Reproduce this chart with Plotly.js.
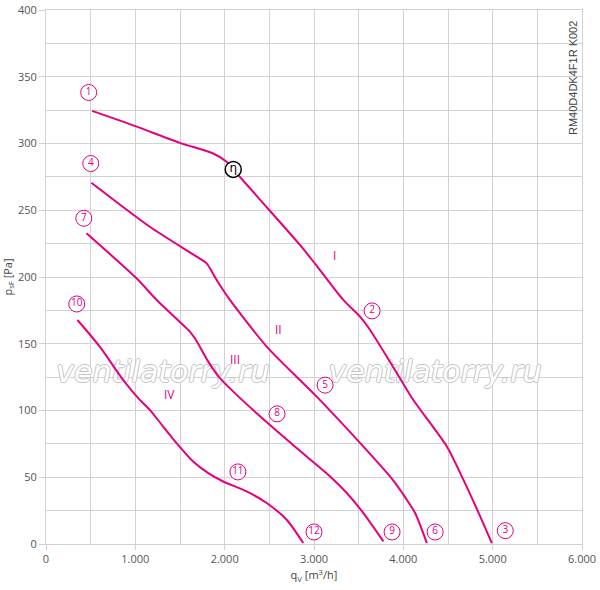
<!DOCTYPE html>
<html><head><meta charset="utf-8">
<script src="https://cdn.plot.ly/plotly-3.0.1.min.js"></script>
<style>body{margin:0;background:#fff}#c{width:600px;height:590px}</style>
</head><body><div id="c"></div>
<script>
// Curve data (q_V in m³/h, p_sF in Pa)
const curveIx = [516,1000,1498,1872,2022,2096,2395,2843,3011,3328,3515,3628,3964,4110,4487,4673,4860,4991];
const curveIy = [324.4,313,300.5,292.5,286.3,280.6,258,224,210,182.8,170.3,160.3,124,108,73,48,20.7,0.7];
const curveIIx = [508,1162,1686,1798,1910,2059,2470,3030,3553,3851,3964,4039,4132,4263];
const curveIIy = [270.6,237.6,215.2,210.2,197.8,182.8,147.9,110.4,73,50.6,40.6,33.1,23.2,0.7];
const curveIIIx = [453,1013,1250,1610,1666,1722,1816,1947,2134,2358,2656,2918,3180,3367,3553,3777];
const curveIIIy = [232.7,199,182,159.1,154.1,147.8,136.6,124.2,111.7,98,80.5,65.5,50.6,38.2,23.2,2];
const curveIVx = [352,602,863,1050,1162,1311,1461,1647,1816,1984,2246,2470,2694,2880];
const curveIVy = [167.8,147.8,123,108,100.5,88,75.6,61.8,53.1,46.8,39.4,30.7,18.2,0.7];

// Operating-point markers
const pointX = [478,3650,5141,501,3124,4356,423,2586,3874,344,2148,3000];
const pointY = [338.2,174.6,10,285,119,9,244,97.5,9,179.8,54,9];
const pointText = ['1','2','3','4','5','6','7','8','9','10','11','12'];
const etaX = [2096], etaY = [280.6], etaText = ['η'];

// Speed-step labels
const romanX = [3225,2608,2115,1386];
const romanY = [216,161,138.5,112];
const romanText = ['I','II','III','IV'];

// Watermark
const wmX = [1308,4356], wmY = [127,127], wmText = ['ventilatorry.ru','ventilatorry.ru'];

// Axis ticks
const xTickVals = [0,1000,2000,3000,4000,5000,6000];
const xTickText = ['0','1.000','2.000','3.000','4.000','5.000','6.000'];
const yTickVals = [0,50,100,150,200,250,300,350,400];

const MAG = '#e5007d';
const GRID = '#d2d2d2';

function curve(x,y){return {x:x,y:y,mode:'lines',type:'scatter',line:{color:MAG,width:2,shape:'spline',smoothing:0.7},hoverinfo:'skip',showlegend:false};}

const traces = [
  {x:wmX,y:wmY,text:wmText,mode:'text',type:'scatter',textposition:'middle center',
   textfont:{family:'DejaVu Sans, sans-serif',size:30,style:'italic',color:'#ffffff',
     shadow:'1px 0 #c4c4c4, -1px 0 #c4c4c4, 0 1px #c4c4c4, 0 -1px #c4c4c4'},
   showlegend:false,hoverinfo:'skip'},
  curve(curveIx,curveIy), curve(curveIIx,curveIIy), curve(curveIIIx,curveIIIy), curve(curveIVx,curveIVy),
  {x:pointX,y:pointY,text:pointText,mode:'markers+text',type:'scatter',textposition:'middle center',
   marker:{symbol:'circle',size:16,color:'white',line:{color:MAG,width:1}},
   textfont:{family:'Open Sans, sans-serif',size:10,color:MAG},showlegend:false,hoverinfo:'skip',cliponaxis:false},
  {x:etaX,y:etaY,text:etaText,mode:'markers+text',type:'scatter',textposition:'middle center',
   marker:{symbol:'circle',size:16,color:'white',line:{color:'#000',width:1.5}},
   textfont:{family:'DejaVu Sans, sans-serif',size:12,color:'#000'},showlegend:false,hoverinfo:'skip'}
];

const annotations = romanText.map((t,i)=>({x:romanX[i],y:romanY[i],text:t,showarrow:false,xanchor:'center',
  font:{family:'Open Sans, sans-serif',size:12,color:MAG}}));
annotations.push({xref:'paper',yref:'paper',x:0.998,y:0.983,xanchor:'right',yanchor:'top',textangle:-90,
  text:'RM40D4DK4F1R K002',showarrow:false,font:{family:'Liberation Sans, Arial, sans-serif',size:11,color:'#444'}});

const layout = {
  width:600,height:590,
  margin:{l:46,r:18,t:10,b:46},
  paper_bgcolor:'#fff',plot_bgcolor:'#fff',
  font:{family:'Open Sans, sans-serif',size:11,color:'#555'},
  xaxis:{range:[0,6000],tickvals:xTickVals,ticktext:xTickText,showgrid:true,gridcolor:GRID,gridwidth:1,
    minor:{dtick:500,showgrid:true,gridcolor:GRID,gridwidth:1},
    ticks:'outside',ticklen:5,tickcolor:GRID,showline:true,linecolor:GRID,linewidth:1,mirror:true,zeroline:false,
    tickfont:{size:11,color:'#555'},
    title:{text:'q<sub>V</sub> [m<sup>3</sup>/h]',font:{size:11,color:'#444'},standoff:6}},
  yaxis:{range:[0,400],tickvals:yTickVals,showgrid:true,gridcolor:GRID,gridwidth:1,
    minor:{dtick:25,showgrid:true,gridcolor:GRID,gridwidth:1},
    ticks:'outside',ticklen:6,tickcolor:GRID,showline:true,linecolor:GRID,linewidth:1,mirror:true,zeroline:false,
    tickfont:{size:11,color:'#555'},
    title:{text:'p<sub>sF</sub> [Pa]',font:{size:11,color:'#444'},standoff:4}},
  annotations:annotations
};
Plotly.newPlot('c',traces,layout,{staticPlot:true});
</script></body></html>
